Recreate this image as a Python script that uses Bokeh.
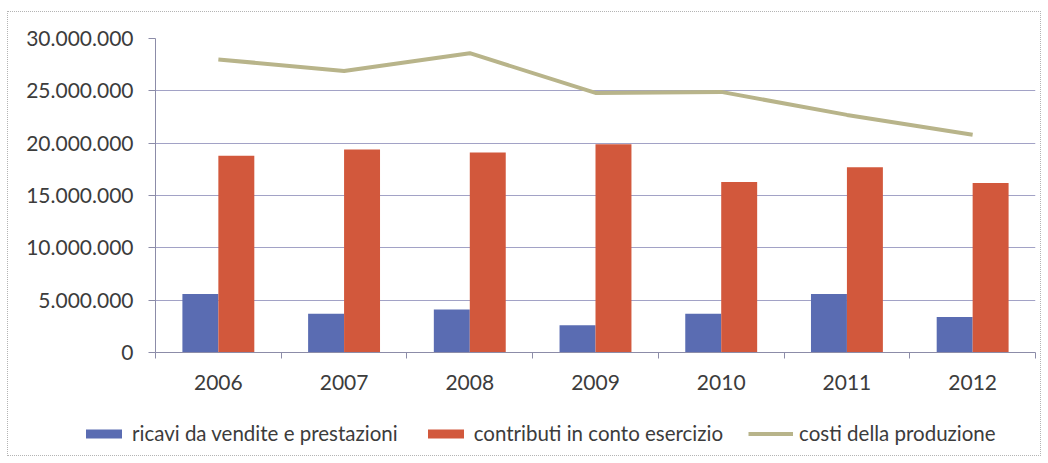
from bokeh.plotting import figure
from bokeh.layouts import column, row
from bokeh.models import FixedTicker, Legend, LegendItem, ColumnDataSource, Range1d
from bokeh.embed import file_html
from bokeh.resources import INLINE

years = ["2006", "2007", "2008", "2009", "2010", "2011", "2012"]
ricavi = [5600000, 3700000, 4100000, 2600000, 3700000, 5600000, 3400000]
contributi = [18800000, 19400000, 19100000, 19900000, 16300000, 17700000, 16200000]
costi = [28000000, 26900000, 28600000, 24800000, 24900000, 22700000, 20800000]
y_ticks = [0, 5000000, 10000000, 15000000, 20000000, 25000000, 30000000]
y_labels = ["0", "5.000.000", "10.000.000", "15.000.000", "20.000.000", "25.000.000", "30.000.000"]
series_names = ["ricavi da vendite e prestazioni", "contributi in conto esercizio", "costi della produzione"]

n = len(years)
centers = [i + 0.5 for i in range(n)]
bw = 0.286
src = ColumnDataSource(dict(
    xb=[c - bw / 2 for c in centers],
    xr=[c + bw / 2 for c in centers],
    xc=centers,
    ricavi=ricavi, contributi=contributi, costi=costi))

FONT = "Lato"
TXT = "#3c3c3c"
BLUE = "#5a6cb2"
RED = "#d2583c"
OLIVE = "#b8b48a"
AXIS = "#8c8ca8"

# main chart
p = figure(frame_width=880, frame_height=314, output_backend="svg", toolbar_location=None,
           x_range=Range1d(0, n), y_range=Range1d(0, 30000000),
           min_border_left=147, min_border_right=5, min_border_top=26, min_border_bottom=48)
p.outline_line_color = None
p.background_fill_color = "white"

p.vbar(x="xb", top="ricavi", width=bw, source=src, fill_color=BLUE, line_color=None)
p.vbar(x="xr", top="contributi", width=bw, source=src, fill_color=RED, line_color=None)
p.line(x="xc", y="costi", source=src, line_color=OLIVE, line_width=4)

p.xaxis.ticker = FixedTicker(ticks=centers, minor_ticks=list(range(n + 1)))
p.xaxis.major_label_overrides = {c: y for c, y in zip(centers, years)}
p.xaxis.major_tick_out = 0
p.xaxis.major_tick_in = 0
p.xaxis.minor_tick_out = 6
p.xaxis.minor_tick_in = 0
p.xaxis.minor_tick_line_color = AXIS
p.xaxis.axis_line_color = AXIS
p.xaxis.major_label_standoff = 16
p.xaxis.major_label_text_font = FONT
p.xaxis.major_label_text_font_size = "21px"
p.xaxis.major_label_text_color = TXT

p.yaxis.ticker = FixedTicker(ticks=y_ticks, minor_ticks=[])
p.yaxis.major_label_overrides = {t: l for t, l in zip(y_ticks, y_labels)}
p.yaxis.major_tick_out = 7
p.yaxis.major_tick_in = 0
p.yaxis.major_tick_line_color = AXIS
p.yaxis.axis_line_color = AXIS
p.yaxis.major_label_standoff = 15
p.yaxis.major_label_text_font = FONT
p.yaxis.major_label_text_font_size = "21px"
p.yaxis.major_label_text_color = TXT

p.xgrid.grid_line_color = None
p.ygrid.ticker = FixedTicker(ticks=y_ticks)
p.ygrid.grid_line_color = "#a2a2c6"
p.ygrid.grid_line_width = 1

# legend strip (same series styles; renderers kept outside the visible range)
q = figure(width=1032, height=55, output_backend="svg", toolbar_location=None,
           x_axis_type=None, y_axis_type=None,
           x_range=Range1d(-20, -19), y_range=Range1d(-20, -19),
           min_border=0, min_border_left=0, min_border_right=0, min_border_top=0, min_border_bottom=0)
q.outline_line_color = None
q.background_fill_color = "white"
r1 = q.vbar(x="xb", top="ricavi", width=bw, source=src, fill_color=BLUE, line_color=None)
r2 = q.vbar(x="xr", top="contributi", width=bw, source=src, fill_color=RED, line_color=None)
r3 = q.line(x="xc", y="costi", source=src, line_color=OLIVE, line_width=4)

legend = Legend(items=[
    LegendItem(label=series_names[0], renderers=[r1]),
    LegendItem(label=series_names[1], renderers=[r2]),
    LegendItem(label=series_names[2], renderers=[r3]),
], orientation="horizontal", location=(73, 10),
    label_text_font=FONT, label_text_font_size="20.5px", label_text_color=TXT,
    glyph_width=45, glyph_height=11, spacing=25, label_standoff=6,
    border_line_color=None, background_fill_alpha=0, padding=0, margin=0)
q.add_layout(legend, "center")

layout = column(p, row(q, spacing=0), spacing=0)
layout.styles = {"border": "1px dotted #b4b4b4", "margin": "11px 0 0 7px"}

open("out.html", "w").write(file_html(layout, INLINE))
